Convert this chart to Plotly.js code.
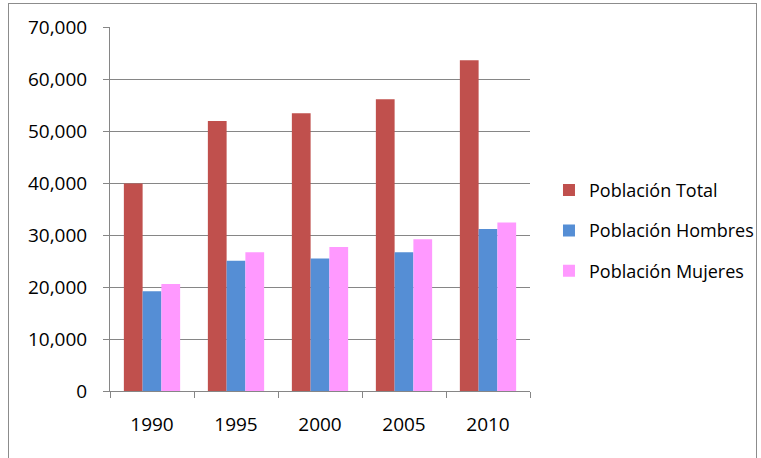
<!DOCTYPE html>
<html>
<head>
<meta charset="utf-8">
<script src="https://cdn.plot.ly/plotly-3.0.1.min.js"></script>
<style>
html,body{margin:0;padding:0;background:#fff;}
#frame{position:absolute;left:8px;top:3px;width:749px;height:470px;border:1px solid #8c8c8c;box-sizing:border-box;pointer-events:none;z-index:5;}
#chart{position:absolute;left:0;top:0;width:761px;height:458px;}
</style>
</head>
<body>
<div id="chart"></div>
<div id="frame"></div>
<script>
var years = ["1990", "1995", "2000", "2005", "2010"];
var seriesNames = ["Población Total", "Población Hombres", "Población Mujeres"];
var total = [39900, 51900, 53400, 56100, 63600];
var hombres = [19200, 25050, 25500, 26700, 31150];
var mujeres = [20600, 26700, 27700, 29200, 32400];
var colors = ["#C0504D", "#558ED5", "#FF99FF"];

var values = [total, hombres, mujeres];
var traces = values.map(function (v, i) {
  return {
    type: "bar",
    x: years,
    y: v,
    name: seriesNames[i],
    legendgroup: "g" + i,
    marker: { color: colors[i] }
  };
});

var layout = {
  width: 761,
  height: 458,
  margin: { l: 110, r: 231, t: 27, b: 67, autoexpand: false },
  paper_bgcolor: "#ffffff",
  plot_bgcolor: "#ffffff",
  font: { family: "'Open Sans', Lato, sans-serif", size: 19, color: "#000000" },
  barmode: "group",
  bargap: 0.33,
  bargroupgap: 0,
  showlegend: true,
  legend: {
    xref: "container",
    x: 0.7214, xanchor: "left",
    y: 0.44, yanchor: "middle",
    tracegroupgap: 14,
    font: { size: 18, color: "#000000" },
    bgcolor: "rgba(0,0,0,0)"
  },
  xaxis: {
    type: "category",
    showline: true,
    linecolor: "#868686",
    linewidth: 1,
    ticks: "outside",
    tickson: "boundaries",
    ticklen: 6,
    tickcolor: "#868686",
    showgrid: false,
    tickfont: { size: 19 },
    ticklabelstandoff: 16
  },
  yaxis: {
    range: [0, 70000],
    dtick: 10000,
    tickformat: ",d",
    showline: true,
    linecolor: "#868686",
    linewidth: 1,
    ticks: "outside",
    ticklen: 6,
    tickcolor: "#868686",
    showgrid: true,
    gridcolor: "#868686",
    gridwidth: 1,
    zeroline: false,
    tickfont: { size: 19 },
    ticklabelstandoff: 12
  }
};

Plotly.newPlot("chart", traces, layout, { displayModeBar: false, staticPlot: true });
</script>
</body>
</html>
